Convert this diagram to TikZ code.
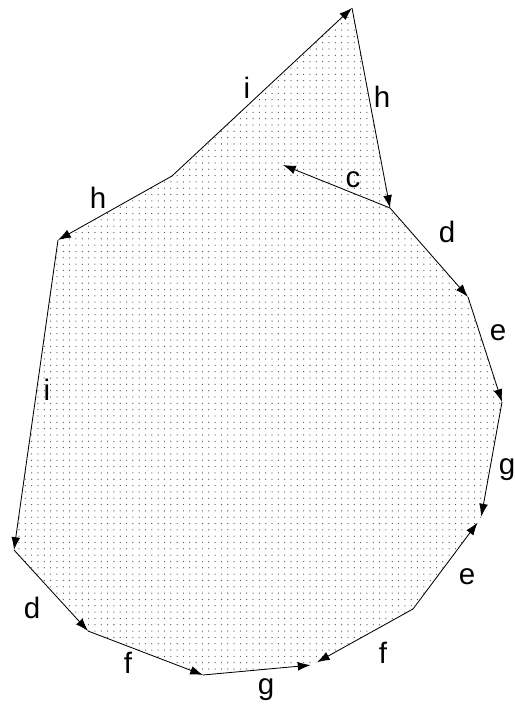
\documentclass[tikz,border=0pt]{standalone}
\usepackage{fontspec}
\setmainfont{Liberation Sans}
\usetikzlibrary{arrows.meta, patterns.meta}
\definecolor{dotgray}{HTML}{505050}

\begin{document}
\begin{tikzpicture}[
  >={Latex[length=3.2mm, width=2.2mm]},
  arr/.style={->, line width=0.6pt, black},
  lbl/.style={font=\fontsize{21}{25}\selectfont, text=black, inner sep=0pt},
]

\useasboundingbox (0,0) rectangle (12.85,17.675);

% Corners of the outline
\coordinate (apex) at (8.80,17.475);
\coordinate (cr1) at (9.75,12.475);
\coordinate (cr2) at (11.70,10.25);
\coordinate (cr3) at (12.55,7.625);
\coordinate (cr4) at (12.025,4.725);
\coordinate (cr5) at (10.325,2.45);
\coordinate (cr6) at (7.80,1.05);
\coordinate (cr7) at (5.075,0.80);
\coordinate (cr8) at (2.20,1.90);
\coordinate (cr9) at (0.35,3.925);
\coordinate (cr10) at (1.45,11.675);
\coordinate (kink) at (4.30,13.275);
\coordinate (cend) at (7.075,13.55);

% Dotted region
\fill[pattern={Dots[distance=4.5pt, radius=0.45pt]}, pattern color=dotgray]
  (apex) -- (cr1) -- (cr2) -- (cr3) -- (cr4) -- (cr5) -- (cr6) -- (cr7)
  -- (cr8) -- (cr9) -- (cr10) -- (kink) -- cycle;

% === Edges ===
\draw[arr] (kink) -- (apex);
\draw[arr] (apex) -- (cr1);
\draw[arr] (cr1) -- (cend);
\draw[arr] (cr1) -- (cr2);
\draw[arr] (cr2) -- (cr3);
\draw[arr, shorten >=1pt] (cr3) -- (cr4);
\draw[arr, shorten >=4pt] (cr5) -- (cr4);
\draw[arr, shorten >=4pt] (cr5) -- (cr6);
\draw[arr, shorten >=1pt] (cr7) -- (cr6);
\draw[arr] (cr8) -- (cr7);
\draw[arr] (cr9) -- (cr8);
\draw[arr] (cr10) -- (cr9);
\draw[arr] (kink) -- (cr10);

% === Labels ===
\node[lbl] (li1) at (6.175,15.475) {i};
\node[lbl] (lh1) at (9.55,15.25) {h};
\node[lbl] (lc) at (8.825,13.175) {c};
\node[lbl] (lh2) at (2.45,12.725) {h};
\node[lbl] (ld1) at (11.175,11.875) {d};
\node[lbl] (le1) at (12.45,9.35) {e};
\node[lbl] (lg1) at (12.675,5.925) {g};
\node[lbl] (le2) at (11.675,3.25) {e};
\node[lbl] (lf1) at (9.575,1.35) {f};
\node[lbl] (lg2) at (6.65,0.425) {g};
\node[lbl] (lf2) at (3.20,1.10) {f};
\node[lbl] (ld2) at (0.80,2.475) {d};
\node[lbl] (li2) at (1.175,7.925) {i};

\end{tikzpicture}
\end{document}
